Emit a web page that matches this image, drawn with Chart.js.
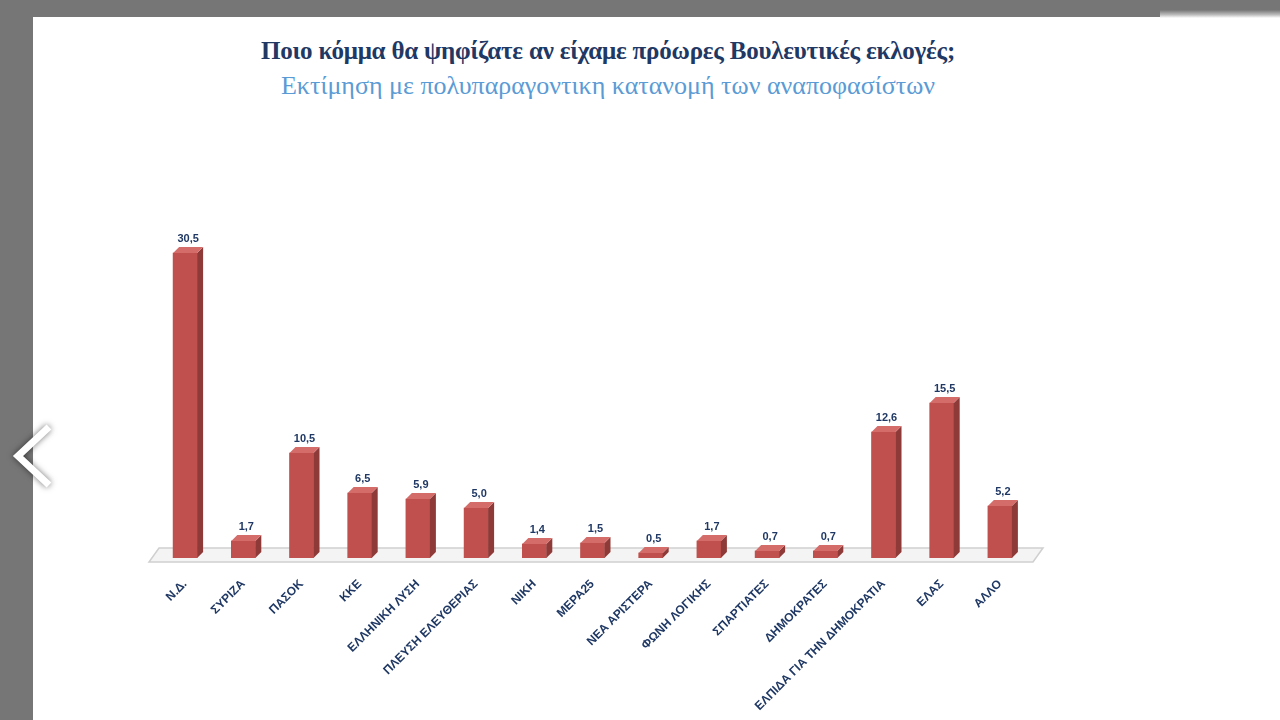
<!DOCTYPE html>
<html>
<head>
<meta charset="utf-8">
<script src="https://cdn.jsdelivr.net/npm/chart.js@4"></script>
<style>
  html, body { margin: 0; padding: 0; }
  body { width: 1280px; height: 720px; background: #767676; position: relative; overflow: hidden; }
  #page { position: absolute; left: 33px; top: 17px; width: 1247px; height: 703px; background: #fff; }
  #curl { position: absolute; left: 1160px; top: 10px; width: 120px; height: 8px;
          background: linear-gradient(to bottom, #767676, #bdbdbd 60%, #fff); }
  #title { position: absolute; left: 33px; width: 1150px; top: 37px; text-align: center;
           font: bold 25px "Liberation Serif", serif; color: #1f3864; letter-spacing: -0.2px; }
  #subtitle { position: absolute; left: 33px; width: 1150px; top: 71px; text-align: center;
              font: 26px "Liberation Serif", serif; color: #5b9bd5; letter-spacing: 0px; }
  #chart { position: absolute; left: 0; top: 0; }
  #arrow { position: absolute; left: 0; top: 400px; }
</style>
</head>
<body>
<div id="page"></div>
<div id="curl"></div>
<div id="title">Ποιο κόμμα θα ψηφίζατε αν είχαμε πρόωρες Βουλευτικές εκλογές;</div>
<div id="subtitle">Εκτίμηση με πολυπαραγοντικη κατανομή των αναποφασίστων</div>
<canvas id="chart" width="1280" height="720"></canvas>
<svg id="arrow" width="80" height="110">
  <polyline points="49,27 18,56 49,85" fill="none" stroke="#fff" stroke-width="7"
            style="filter: drop-shadow(0 0 3px rgba(0,0,0,0.55));"/>
</svg>
<script>
var parties = ["Ν.Δ.", "ΣΥΡΙΖΑ", "ΠΑΣΟΚ", "ΚΚΕ", "ΕΛΛΗΝΙΚΗ ΛΥΣΗ", "ΠΛΕΥΣΗ ΕΛΕΥΘΕΡΙΑΣ",
  "ΝΙΚΗ", "ΜΕΡΑ25", "ΝΕΑ ΑΡΙΣΤΕΡΑ", "ΦΩΝΗ ΛΟΓΙΚΗΣ", "ΣΠΑΡΤΙΑΤΕΣ", "ΔΗΜΟΚΡΑΤΕΣ",
  "ΕΛΠΙΔΑ ΓΙΑ ΤΗΝ ΔΗΜΟΚΡΑΤΙΑ", "ΕΛΑΣ", "ΑΛΛΟ"];
var estimate = [30.5, 1.7, 10.5, 6.5, 5.9, 5.0, 1.4, 1.5, 0.5, 1.7, 0.7, 0.7, 12.6, 15.5, 5.2];

var depth = 6;

// floor + 3d faces + value labels
var bars3d = {
  id: "bars3d",
  beforeDatasetsDraw: function (chart) {
    var ctx = chart.ctx, a = chart.chartArea;
    ctx.save();
    ctx.fillStyle = "#f4f4f4";
    ctx.strokeStyle = "#cfcfcf";
    ctx.lineWidth = 1.5;
    ctx.beginPath();
    ctx.moveTo(a.left - 7, a.bottom + 4);
    ctx.lineTo(a.right + 4, a.bottom + 4);
    ctx.lineTo(a.right + 14, a.bottom - 10);
    ctx.lineTo(a.left + 3, a.bottom - 10);
    ctx.closePath();
    ctx.fill();
    ctx.stroke();
    ctx.restore();
  },
  afterDatasetsDraw: function (chart) {
    var ctx = chart.ctx;
    var meta = chart.getDatasetMeta(0);
    ctx.save();
    meta.data.forEach(function (bar, i) {
      var half = bar.width / 2;
      var l = bar.x - half, r = bar.x + half, t = bar.y, b = bar.base;
      ctx.fillStyle = "#8e3a38";
      ctx.beginPath();
      ctx.moveTo(r, t); ctx.lineTo(r + depth, t - depth);
      ctx.lineTo(r + depth, b - depth); ctx.lineTo(r, b);
      ctx.closePath(); ctx.fill();
      ctx.fillStyle = "#d46d6a";
      ctx.beginPath();
      ctx.moveTo(l, t); ctx.lineTo(l + depth, t - depth);
      ctx.lineTo(r + depth, t - depth); ctx.lineTo(r, t);
      ctx.closePath(); ctx.fill();
      ctx.fillStyle = "#1f3864";
      ctx.font = "bold 11px 'Liberation Sans', sans-serif";
      ctx.textAlign = "center";
      ctx.textBaseline = "bottom";
      ctx.fillText(estimate[i].toFixed(1).replace(".", ","), bar.x + depth / 2, t - depth - 3);
    });
    ctx.restore();
  }
};

new Chart(document.getElementById("chart"), {
  type: "bar",
  data: {
    labels: parties,
    datasets: [{
      data: estimate,
      backgroundColor: "#c0504d",
      borderWidth: 0,
      barThickness: 24
    }]
  },
  options: {
    responsive: false,
    animation: false,
    layout: { padding: { left: 156, right: 251, top: 208, bottom: 0 } },
    plugins: { legend: { display: false }, tooltip: { enabled: false } },
    scales: {
      x: {
        grid: { display: false },
        border: { display: false },
        ticks: {
          color: "#1f3864",
          font: { family: "'Liberation Sans', sans-serif", size: 12, weight: "bold" },
          minRotation: 45,
          maxRotation: 45,
          padding: 11,
          autoSkip: false
        },
        afterFit: function (scale) { scale.height = 162; }
      },
      y: { display: false, min: 0, max: 35 }
    }
  },
  plugins: [bars3d]
});
</script>
</body>
</html>
